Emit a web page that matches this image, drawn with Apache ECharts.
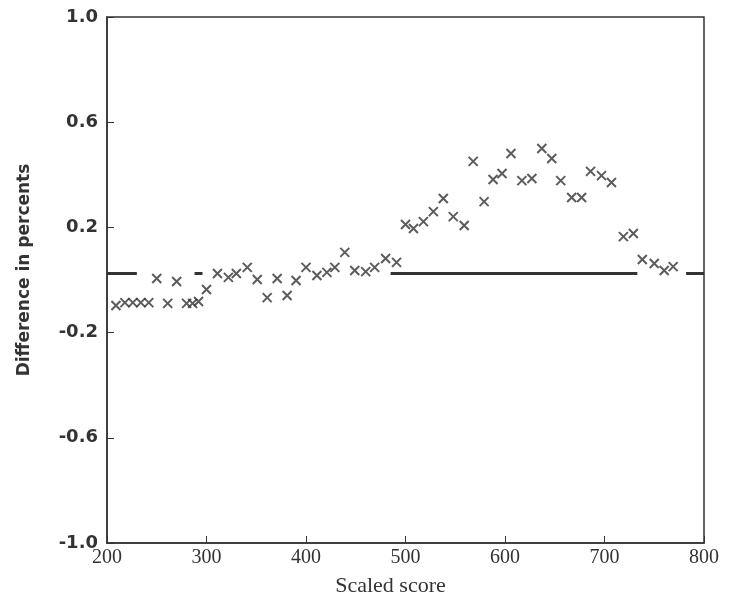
<!DOCTYPE html>
<html>
<head>
<meta charset="utf-8">
<script src="https://cdn.jsdelivr.net/npm/echarts@6/dist/echarts.min.js"></script>
<style>
html,body{margin:0;padding:0;background:#fff;}
#chart{width:733px;height:603px;}
</style>
</head>
<body>
<div id="chart"></div>
<script>
// scaled score / difference
var scoreX = [209,218,226,234,242,250,261,270,280,286,292,300,311,322,330,341,351,361,371,381,390,400,411,421,429,439,449,460,469,480,491,
  500,508,518,528,538,548,559,568,579,588,597,606,617,627,637,647,656,667,677,686,697,707,719,729,738,750,760,769];
var diffY = [-0.097,-0.086,-0.086,-0.086,-0.086,0.006,-0.089,-0.006,-0.089,-0.089,-0.082,-0.036,0.025,0.010,0.025,0.048,0.002,-0.067,0.006,-0.059,-0.002,0.048,0.017,0.029,0.048,0.105,0.036,0.032,0.048,0.082,0.067,
  0.211,0.196,0.222,0.260,0.310,0.241,0.207,0.451,0.298,0.382,0.405,0.481,0.378,0.386,0.500,0.462,0.378,0.314,0.314,0.413,0.397,0.371,0.165,0.177,0.078,0.063,0.036,0.051];
// horizontal reference segments
var segStart = [200,288,485,782];
var segEnd = [230,296,733,800];
var segLevel = 0.025;
var yTicks = [-1,-0.6,-0.2,0.2,0.6,1];

var chart = echarts.init(document.getElementById('chart'));
var ink = '#333';

var series = [];
for (var i = 0; i < segStart.length; i++) {
    series.push({
        type: 'line',
        data: [[segStart[i], segLevel], [segEnd[i], segLevel]],
        symbol: 'none',
        lineStyle: {color: ink, width: 3},
        silent: true,
        z: 2
    });
}
var pts = [];
for (var j = 0; j < scoreX.length; j++) {
    pts.push([scoreX[j], diffY[j]]);
}
series.push({
    type: 'scatter',
    data: pts,
    symbol: 'path://M0,0L10,10M10,0L0,10',
    symbolSize: 9,
    itemStyle: {color: 'none', borderColor: ink, borderWidth: 2},
    z: 3
});

chart.setOption({
    animation: false,
    backgroundColor: '#fff',
    grid: {left: 107, right: 29, top: 17, bottom: 60, show: true, borderColor: ink, borderWidth: 1.5},
    xAxis: {
        type: 'value', min: 200, max: 800, interval: 100,
        name: 'Scaled score', nameLocation: 'middle', nameGap: 32,
        nameTextStyle: {fontFamily: 'Liberation Serif', fontSize: 22, color: ink, padding: [0, 30, 0, 0]},
        axisLine: {onZero: false, lineStyle: {color: ink, width: 1.5}},
        axisTick: {inside: true, length: 7, lineStyle: {color: ink}},
        axisLabel: {fontFamily: 'Liberation Serif', fontSize: 20, color: ink, margin: 5},
        splitLine: {show: false}
    },
    yAxis: {
        type: 'value', min: -1, max: 1,
        name: 'Difference in percents', nameLocation: 'middle', nameGap: 74, nameRotate: 90,
        nameTextStyle: {fontFamily: 'DejaVu Sans', fontWeight: 'bold', fontSize: 17, color: ink, padding: [0, 0, 0, 20]},
        axisLine: {onZero: false, lineStyle: {color: ink, width: 1.5}},
        axisTick: {inside: true, length: 7, lineStyle: {color: ink}, customValues: yTicks},
        axisLabel: {fontFamily: 'DejaVu Sans', fontWeight: 'bold', fontSize: 18, color: ink, margin: 9,
            customValues: yTicks,
            formatter: function (v) { return v.toFixed(1); }},
        splitLine: {show: false}
    },
    series: series
});
</script>
</body>
</html>
